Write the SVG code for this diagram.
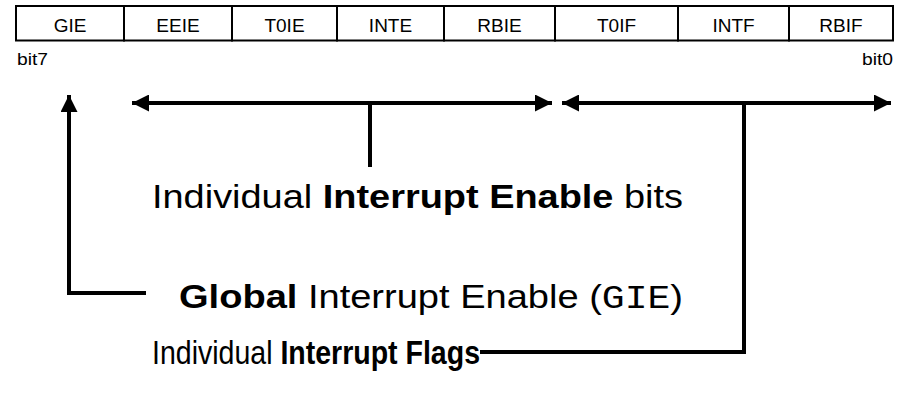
<svg xmlns="http://www.w3.org/2000/svg" width="905" height="398" viewBox="0 0 905 398">
  <style>
    .cell { fill: #fff; stroke: #000; stroke-width: 2; }
    .reg { font-family: "Liberation Sans", Arial, sans-serif; font-size: 19px; fill: #000; text-anchor: middle; }
    .bit { font-family: "Liberation Sans", Arial, sans-serif; font-size: 16px; fill: #000; }
    .label { font-family: "Liberation Sans", Arial, sans-serif; font-size: 34px; fill: #000; }
    .b { font-weight: bold; }
    .mono { font-family: "Liberation Mono", "Courier New", monospace; }
    .wire { fill: none; stroke: #000; stroke-width: 4; }
  </style>
  <defs>
    <marker id="head" viewBox="0 0 17 17" refX="17" refY="8.5" markerWidth="17" markerHeight="17" markerUnits="userSpaceOnUse" orient="auto-start-reverse">
      <path d="M0,0 L17,8.5 L0,17 Z" fill="#000"/>
    </marker>
  </defs>

  <!-- INTCON register, bit7 .. bit0 -->
  <g id="register">
    <rect class="cell" x="16" y="6" width="108" height="34.5"/>
    <rect class="cell" x="124" y="6" width="108" height="34.5"/>
    <rect class="cell" x="232" y="6" width="105" height="34.5"/>
    <rect class="cell" x="337" y="6" width="107" height="34.5"/>
    <rect class="cell" x="444" y="6" width="111" height="34.5"/>
    <rect class="cell" x="555" y="6" width="123" height="34.5"/>
    <rect class="cell" x="678" y="6" width="111" height="34.5"/>
    <rect class="cell" x="789" y="6" width="104" height="34.5"/>
    <text class="reg" x="70" y="32">GIE</text>
    <text class="reg" x="178" y="32">EEIE</text>
    <text class="reg" x="284.5" y="32">T0IE</text>
    <text class="reg" x="390.5" y="32">INTE</text>
    <text class="reg" x="499.5" y="32">RBIE</text>
    <text class="reg" x="616.5" y="32">T0IF</text>
    <text class="reg" x="733.5" y="32">INTF</text>
    <text class="reg" x="841" y="32">RBIF</text>
    <text class="bit" x="17" y="65" textLength="31" lengthAdjust="spacingAndGlyphs">bit7</text>
    <text class="bit" x="862" y="65" textLength="31" lengthAdjust="spacingAndGlyphs">bit0</text>
  </g>

  <g id="connectors">
    <!-- enable bits span -->
    <line class="wire" x1="132" y1="103" x2="552" y2="103" marker-start="url(#head)" marker-end="url(#head)"/>
    <line class="wire" x1="370" y1="103" x2="370" y2="167"/>
    <!-- flag bits span -->
    <line class="wire" x1="562" y1="103" x2="891" y2="103" marker-start="url(#head)" marker-end="url(#head)"/>
    <polyline class="wire" points="744,103 744,352 480,352"/>
    <!-- global enable -->
    <polyline class="wire" points="146,293 69,293 69,95" marker-end="url(#head)"/>
  </g>

  <g id="enable-label">
    <text class="label" x="152" y="208" textLength="531" lengthAdjust="spacingAndGlyphs">Individual <tspan class="b">Interrupt Enable</tspan> bits</text>
  </g>
  <g id="gie-label">
    <text class="label" x="179" y="308" textLength="504" lengthAdjust="spacingAndGlyphs"><tspan class="b">Global</tspan> Interrupt Enable (<tspan class="mono">GIE</tspan>)</text>
  </g>
  <g id="flags-label">
    <text class="label" x="152" y="364" textLength="328" lengthAdjust="spacingAndGlyphs">Individual <tspan class="b">Interrupt Flags</tspan></text>
  </g>
</svg>
